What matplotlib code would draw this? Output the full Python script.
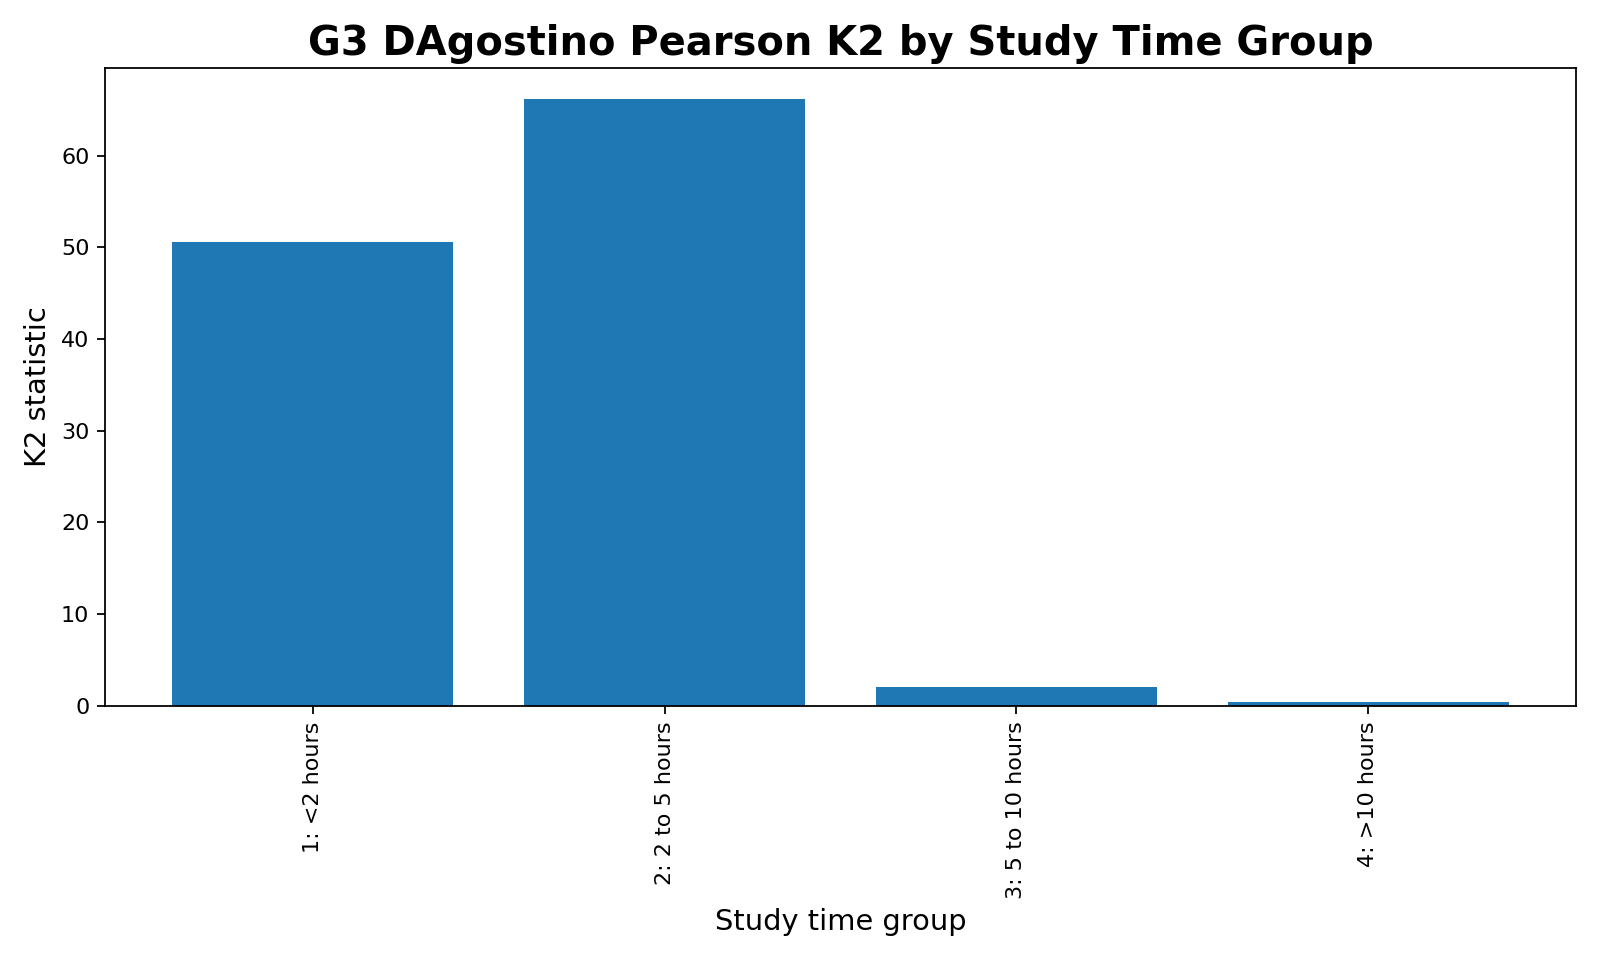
import matplotlib
matplotlib.use("Agg")
import matplotlib.pyplot as plt

groups = ["1: <2 hours", "2: 2 to 5 hours", "3: 5 to 10 hours", "4: >10 hours"]
k2_values = [50.55, 66.2, 2.05, 0.4]

fig, ax = plt.subplots(figsize=(10, 6), dpi=160)
ax.bar(groups, k2_values, color="#1f77b4")
ax.set_title("G3 DAgostino Pearson K2 by Study Time Group", fontsize=18, fontweight="bold")
ax.set_xlabel("Study time group", fontsize=13)
ax.set_ylabel("K2 statistic", fontsize=13)
plt.setp(ax.get_xticklabels(), rotation=90)
fig.tight_layout()
fig.savefig("out.png")
